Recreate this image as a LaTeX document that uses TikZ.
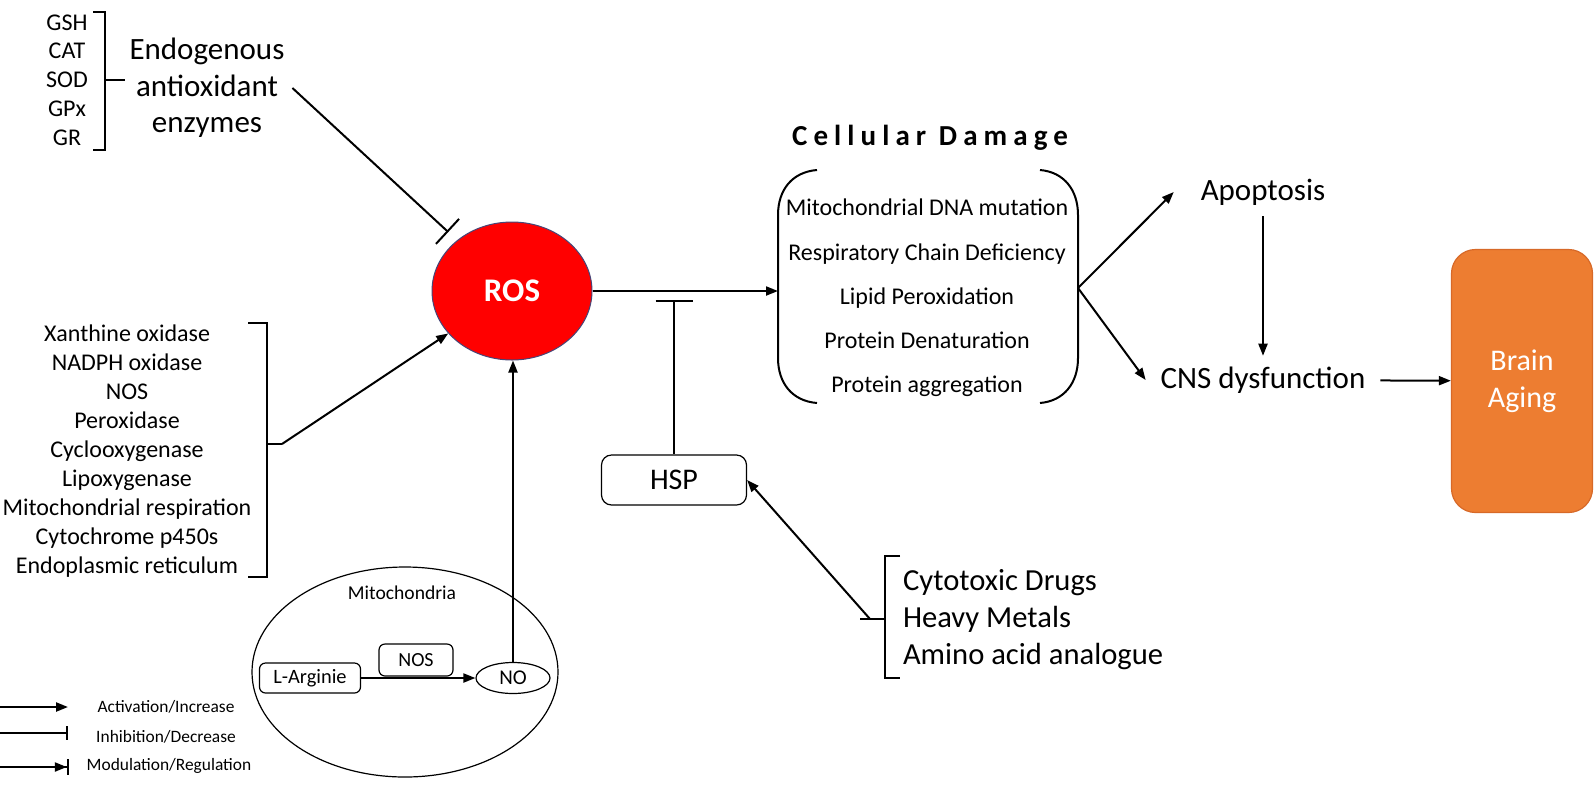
\documentclass[tikz,border=0pt]{standalone}
\usepackage{fontspec}
\setmainfont{Carlito}
\newfontfamily\spacedfont[LetterSpace=21]{Carlito}
\usetikzlibrary{calc,shapes,positioning}
\usetikzlibrary{arrows.meta}
\tikzset{>={Triangle[width=4.5pt,length=6pt]}}
\definecolor{rosedge}{RGB}{70,70,120}
\definecolor{agingorange}{RGB}{237,125,49}
\definecolor{agingedge}{RGB}{215,105,40}

\begin{document}
\begin{tikzpicture}[x=0.5pt,y=-0.5pt,line width=1pt]
        \useasboundingbox (0,0) rectangle (1594,788);
        \tikzstyle{txt} = [inner sep=0pt, align=center]
        \tikzstyle{rbox} = [draw, rounded corners=3pt, line width=0.6pt, inner sep=0pt, minimum height=15pt, font=\fontsize{10}{12}\selectfont]
        \tikzstyle{inhibit} = [-{Bar[width=17pt]}]
        \tikzstyle{brk} = [line width=1pt]

        % endogenous antioxidant enzymes
        \node[txt, font=\fontsize{12}{14.4}\selectfont] (enz) at (67,80) {GSH\\CAT\\SOD\\GPx\\GR};
        \draw[brk] (93,12) -- (105,12) -- (105,150) -- (93,150);
        \draw[brk] (105,80) -- (125,80);
        \node[txt, inner sep=3.5pt, font=\fontsize{15.5}{18.25}\selectfont] (endo) at (207,88) {Endogenous\\antioxidant\\enzymes};

        \node[ellipse, fill=red, draw=rosedge, line width=0.5pt, inner sep=0pt, minimum width=80pt, minimum height=69pt,
          text=white, font=\fontsize{16.5}{20}\selectfont\bfseries] (ros) at (512,291) {ROS};
        \draw[inhibit, shorten >=6pt] (endo.east) -- (ros);

        % ROS sources
        \node[txt, font=\fontsize{12}{14.5}\selectfont] (src) at (127,451) {Xanthine oxidase\\NADPH oxidase\\NOS\\Peroxidase\\Cyclooxygenase\\Lipoxygenase\\Mitochondrial respiration\\Cytochrome p450s\\Endoplasmic reticulum};
        \draw[brk] (248,323) -- (267,323) -- (267,577) -- (248,577);
        \coordinate (srcTick) at (282,444);
        \draw[brk] (267,444) -- (srcTick);
        \draw[->] (srcTick) -- (ros);

        % mitochondria
        \node[ellipse, draw, line width=0.6pt, inner sep=0pt, minimum width=153pt, minimum height=105pt] (mito) at (405,672) {};
        \node[txt, font=\fontsize{9.8}{12}\selectfont] (mitoLbl) at (402,593) {Mitochondria};
        \node[rbox, minimum width=50.5pt, font=\fontsize{10.2}{12}\selectfont] (larg) at (310,678) {L-Arginie};
        \node[rbox, minimum width=37pt, minimum height=16pt] (nos) at (416,660) {NOS};
        \node[ellipse, draw, line width=0.6pt, inner sep=0pt, minimum width=37pt, minimum height=15.5pt,
          font=\fontsize{10.5}{12}\selectfont] (no) at (513,678) {NO};
        \draw[->] (larg) -- (no);
        \draw[->] (no) -- (no |- ros.south);

        % cellular damage
        \node[txt, font=\spacedfont\fontsize{14.5}{16}\selectfont\bfseries] (dmgTitle) at (930,138) {Cellular Damage};
        \node[txt, font=\fontsize{12}{22.1}\selectfont] (dmg) at (927,298) {Mitochondrial DNA mutation\\Respiratory Chain Deficiency\\Lipid Peroxidation\\Protein Denaturation\\Protein aggregation};
        \draw (817,170) .. controls (792,172) and (778,190) .. (778,215) -- (778,358) .. controls (778,383) and (792,401) .. (817,403);
        \draw (1040,170) .. controls (1064,172) and (1078,190) .. (1078,215) -- (1078,358) .. controls (1078,383) and (1064,401) .. (1040,403);
        \coordinate (dmgIn) at (778,291);
        \coordinate (dmgOut) at (1078,288);
        \draw[->] (ros) -- (dmgIn);

        % heat shock proteins
        \node[draw, rounded corners=5pt, line width=0.6pt, minimum width=72.5pt, minimum height=25pt,
          font=\fontsize{15}{18}\selectfont] (hsp) at (674,480) {HSP};
        \coordinate (hspBar) at (674,300);
        \draw[-{Bar[width=18.5pt]}] (hsp) -- (hspBar);

        \node[txt, anchor=west, align=left, font=\fontsize{15.3}{18.5}\selectfont] (stress) at (902,620) {Cytotoxic Drugs\\Heavy Metals\\Amino acid analogue};
        \draw[brk] (900,556) -- (885,556) -- (885,678) -- (900,678);
        \coordinate (strTick) at (870,619);
        \draw[brk] (860,619) -- (885,619);
        \draw[->] (strTick) -- (hsp.east);

        % outcome
        \node[inner xsep=13pt, inner ysep=5pt, font=\fontsize{15.5}{18}\selectfont] (apop) at (1263,192) {Apoptosis};
        \node[inner xsep=7pt, inner ysep=5pt, font=\fontsize{15.5}{18}\selectfont] (cns) at (1263,380) {CNS dysfunction};
        \node[fill=agingorange, draw=agingedge, line width=0.6pt, rounded corners=12pt, minimum width=70.5pt, minimum height=131.5pt,
          text=white, align=center, font=\fontsize{15}{18.5}\selectfont] (brain) at (1522,381) {Brain\\Aging};
        \draw[->] (dmgOut) -- (apop.west);
        \draw[->] (dmgOut) -- (cns.west);
        \draw[->] (apop) -- (cns);
        \draw[->] (cns) -- (brain);

        % legend
        \coordinate (lgA) at (0,707);
        \coordinate (lgAe) at (68,707);
        \coordinate (lgB) at (0,733);
        \coordinate (lgBe) at (68,733);
        \coordinate (lgC) at (0,767);
        \coordinate (lgCe) at (69,767);
        \draw[->, line width=1.1pt] (lgA) -- (lgAe);
        \draw[-{Bar[width=7pt]}, line width=1.1pt] (lgB) -- (lgBe);
        \draw[-{Triangle[width=4.5pt,length=6pt]Bar[width=8pt]}, line width=1.1pt] (lgC) -- (lgCe);
        \node[txt, font=\fontsize{8.7}{10}\selectfont] (lgAtxt) at (166,707) {Activation/Increase};
        \node[txt, font=\fontsize{8.7}{10}\selectfont] (lgBtxt) at (166,737) {Inhibition/Decrease};
        \node[txt, font=\fontsize{8.7}{10}\selectfont] (lgCtxt) at (169,766) {Modulation/Regulation};
\end{tikzpicture}
\end{document}
